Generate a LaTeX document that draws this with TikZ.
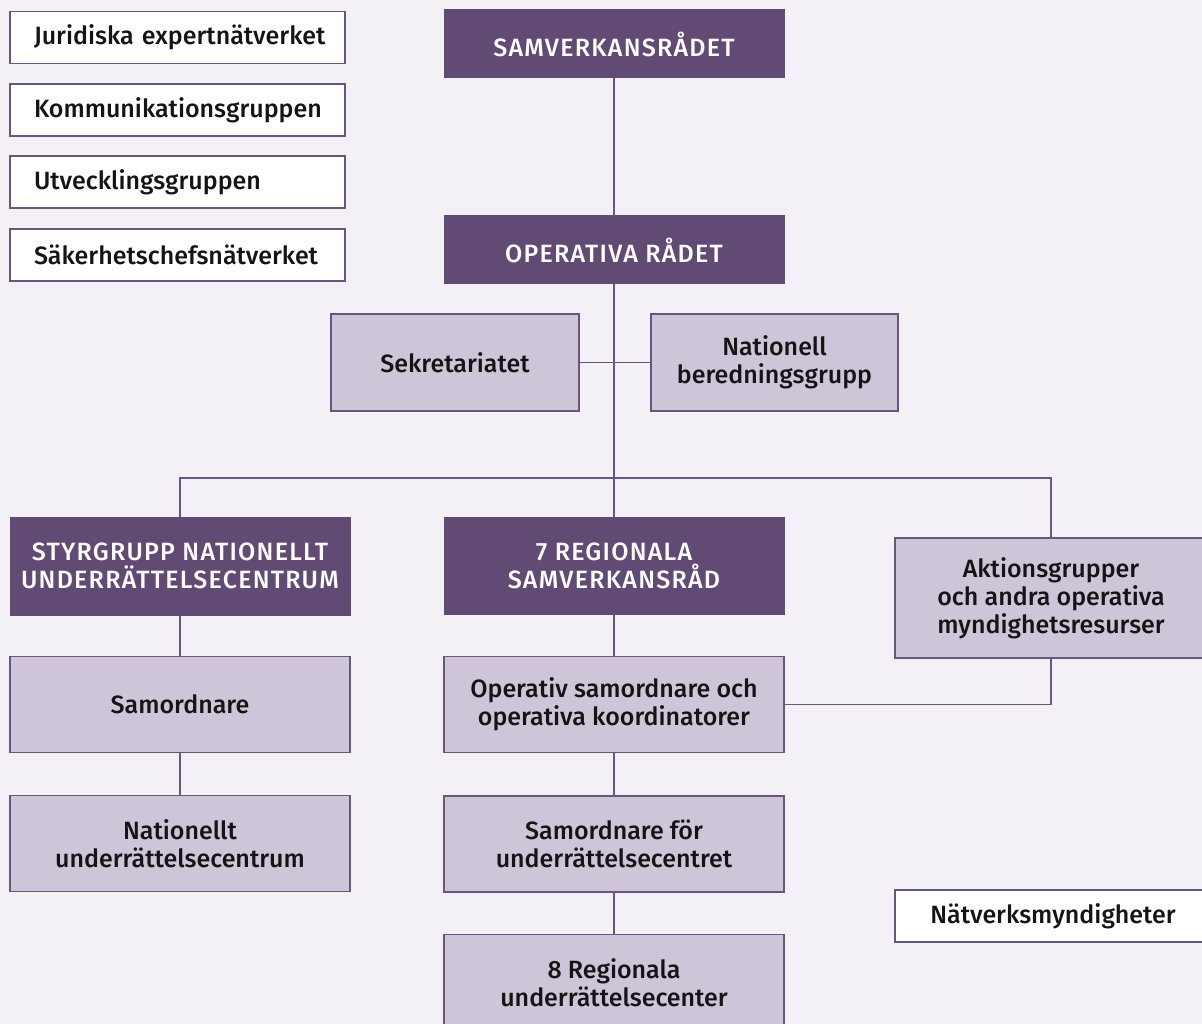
\documentclass[tikz,border=0pt]{standalone}
\usepackage{fontspec}
\setmainfont{Fira Sans}[BoldFont={Fira Sans Medium}]
\newfontfamily\capsfont{Fira Sans Medium}[LetterSpace=5]
\definecolor{darkp}{HTML}{614A73}
\definecolor{lightp}{HTML}{CEC6D8}
\definecolor{bgc}{HTML}{F3F1F6}
\definecolor{linec}{HTML}{6A5580}
\definecolor{txt}{HTML}{141414}
\tikzset{
  boxbase/.style={rectangle, inner sep=0pt, outer sep=0pt, align=center},
  wbox/.style={boxbase, fill=white, draw=linec, line width=1.1pt, minimum width=335pt, minimum height=52pt,
    text width=287pt, inner xsep=24pt, align=left, text=txt, font=\fontsize{25}{28}\selectfont\bfseries},
  dbox/.style={boxbase, fill=darkp, draw=darkp, line width=1pt, minimum width=340pt, text=white,
    font=\fontsize{25}{28}\selectfont\capsfont},
  lbox/.style={boxbase, fill=lightp, draw=linec, line width=1.1pt, text=txt,
    font=\fontsize{25}{28}\selectfont\bfseries},
  conn/.style={draw=linec, line width=1.8pt}
}
\begin{document}
\begin{tikzpicture}[x=1pt,y={(0pt,-1pt)}]
\useasboundingbox (0,0) rectangle (1202,1024);
\clip (0,0) rectangle (1202,1024);
\fill[bgc] (0,0) rectangle (1202,1024);
\coordinate (busy) at (0,478);
% nodes
\node[wbox] (jur) at (177.5,37.5) {\mbox{Juridiska expertnätverket}};
\node[wbox] (kom) at (177.5,110) {\mbox{Kommunikationsgruppen}};
\node[wbox] (utv) at (177.5,182) {\mbox{Utvecklingsgruppen}};
\node[wbox] (sak) at (177.5,255) {\mbox{Säkerhetschefsnätverket}};
\node[dbox, minimum height=68pt] (samv) at (614,44) {SAMVERKANSRÅDET};
\node[dbox, minimum height=68pt] (oper) at (614,250) {OPERATIVA RÅDET};
\node[lbox, minimum width=248pt, minimum height=97pt] (sekr) at (455,362.5) {Sekretariatet};
\node[lbox, minimum width=247pt, minimum height=97pt] (nat) at (774.5,362.5) {Nationell\\beredningsgrupp};
\node[dbox, minimum height=98pt] (styr) at (180,566) {STYRGRUPP NATIONELLT\\UNDERRÄTTELSECENTRUM};
\node[dbox, minimum height=97pt] (reg7) at (614,565.5) {7 REGIONALA\\SAMVERKANSRÅD};
\node[lbox, minimum width=312pt, minimum height=120pt] (akt) at (1051,598) {Aktionsgrupper\\och andra operativa\\myndighetsresurser};
\node[lbox, minimum width=340pt, minimum height=96pt] (samo) at (180,704.5) {Samordnare};
\node[lbox, minimum width=340pt, minimum height=96pt] (opsam) at (614,704.5) {Operativ samordnare och\\operativa koordinatorer};
\node[lbox, minimum width=340pt, minimum height=96pt] (natc) at (180,843.5) {Nationellt\\underrättelsecentrum};
\node[lbox, minimum width=340pt, minimum height=96pt] (samfor) at (614,844) {Samordnare för\\underrättelsecentret};
\node[lbox, minimum width=340pt, minimum height=96pt] (reg8) at (614,982.5) {8 Regionala\\underrättelsecenter};
\node[boxbase, fill=white, draw=linec, line width=1.1pt, minimum width=316pt, minimum height=52pt, text=txt,
  font=\fontsize{25}{28}\selectfont\bfseries] (natv) at (1053,916) {Nätverksmyndigheter};
% connectors
\draw[conn] (samv.south) -- (oper.north);
\draw[conn] (oper.south) -- (reg7.north);
\draw[conn] (sekr.east) -- (nat.west);
\draw[conn] (styr.north) -- (styr.north |- busy) -- (akt.north |- busy) -- (akt.north);
\draw[conn] (styr.south) -- (samo.north);
\draw[conn] (samo.south) -- (natc.north);
\draw[conn] (reg7.south) -- (opsam.north);
\draw[conn] (opsam.south) -- (samfor.north);
\draw[conn] (samfor.south) -- (reg8.north);
\draw[conn] (opsam.east) -| (akt.south);
\end{tikzpicture}
\end{document}
